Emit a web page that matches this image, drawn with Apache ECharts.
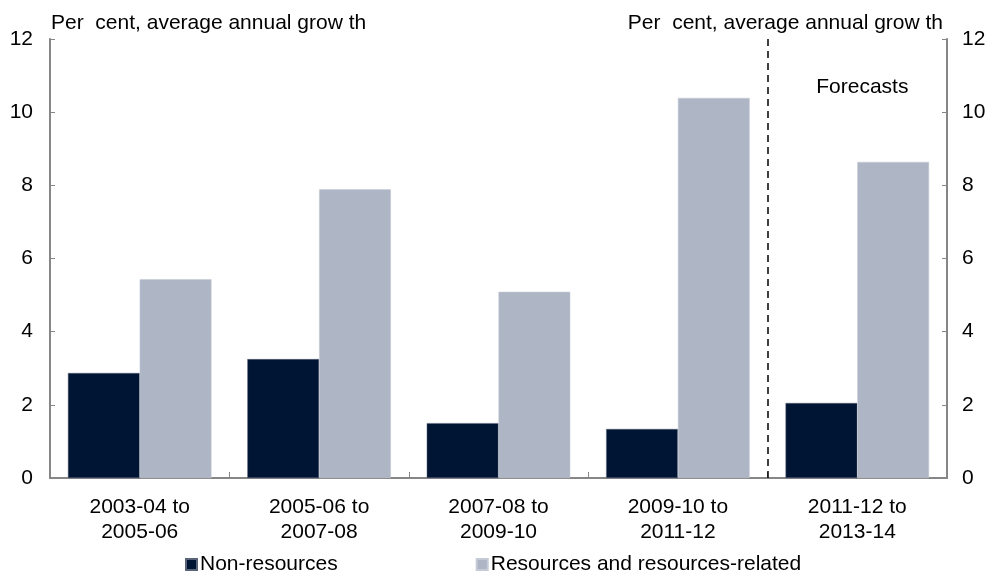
<!DOCTYPE html>
<html><head><meta charset="utf-8">
<script src="https://cdn.jsdelivr.net/npm/echarts@6/dist/echarts.min.js"></script>
<style>html,body{margin:0;padding:0;background:#fff}#c{width:991px;height:582px}</style>
</head><body><div id="c"></div>
<script>
const categories = ['2003-04 to\n2005-06','2005-06 to\n2007-08','2007-08 to\n2009-10','2009-10 to\n2011-12','2011-12 to\n2013-14'];
const nonResources = [2.87, 3.25, 1.50, 1.34, 2.05];
const resourcesRelated = [5.43, 7.89, 5.09, 10.39, 8.64];
const yTicks = {min: 0, max: 12, interval: 2};
const forecastStart = 4; // boundary index between 4th and 5th category
const unitLabel = 'Per  cent, average annual grow th';

const font = 'Arial, "Liberation Sans", sans-serif';
const chart = echarts.init(document.getElementById('c'), null, {renderer: 'canvas'});
const axisGray = '#868686';
const yAxisCommon = {
  type: 'value', min: yTicks.min, max: yTicks.max, interval: yTicks.interval,
  splitLine: {show: false},
  axisLine: {show: true, lineStyle: {color: axisGray, width: 2}},
  axisTick: {show: true, inside: true, length: 5, lineStyle: {color: axisGray, width: 1}},
  axisLabel: {color: '#000', fontSize: 21, fontFamily: font}
};
chart.setOption({
  animation: false,
  textStyle: {fontFamily: font},
  grid: {left: 50, right: 44, top: 39, bottom: 104, containLabel: false},
  title: [
    {text: unitLabel, left: 46, top: 8, textStyle: {fontSize: 21, fontWeight: 'normal', color: '#000', fontFamily: font}},
    {text: unitLabel, right: 43, top: 8, textStyle: {fontSize: 21, fontWeight: 'normal', color: '#000', fontFamily: font}}
  ],
  legend: {
    bottom: 2, left: 180, itemWidth: 11, itemHeight: 11, icon: 'rect', itemGap: 138,
    textStyle: {fontSize: 21, color: '#000', fontFamily: font, padding: [0,0,0,-2]},
    data: ['Non-resources', 'Resources and resources-related']
  },
  xAxis: [
    {
      type: 'category', data: categories,
      axisLine: {show: true, lineStyle: {color: axisGray, width: 2}},
      axisTick: {show: true, inside: true, length: 6, interval: 0, lineStyle: {color: axisGray, width: 1}},
      axisLabel: {color: '#000', fontSize: 21, lineHeight: 25, margin: 17, fontFamily: font, interval: 0}
    },
    {type: 'value', min: 0, max: categories.length, show: false}
  ],
  yAxis: [
    Object.assign({}, yAxisCommon, {position: 'left', axisLabel: Object.assign({}, yAxisCommon.axisLabel, {margin: 17})}),
    Object.assign({}, yAxisCommon, {position: 'right', axisLabel: Object.assign({}, yAxisCommon.axisLabel, {margin: 15})})
  ],
  series: [
    {name: 'Non-resources', type: 'bar', data: nonResources, barGap: '0%', barCategoryGap: '20%',
     itemStyle: {color: '#001433', borderColor: '#5a6478', borderWidth: 0.5}},
    {name: 'Resources and resources-related', type: 'bar', data: resourcesRelated,
     itemStyle: {color: '#AEB5C5', borderColor: '#c4cad6', borderWidth: 0.5}},
    {name: 'forecast', type: 'line', xAxisIndex: 1, yAxisIndex: 0, data: [], silent: true,
     markLine: {silent: true, symbol: 'none', label: {show: false},
       lineStyle: {color: '#000', type: [7, 5], width: 1.5},
       data: [[{coord: [forecastStart, yTicks.max]}, {coord: [forecastStart, yTicks.min]}]]},
     markArea: {silent: true, itemStyle: {color: 'rgba(0,0,0,0)'},
       label: {show: true, position: 'insideTop', distance: 38, offset: [5, 0], color: '#000', fontSize: 21, fontFamily: font},
       data: [[{name: 'Forecasts', coord: [forecastStart, yTicks.max]}, {coord: [categories.length, yTicks.min]}]]}
    }
  ]
});
</script></body></html>
